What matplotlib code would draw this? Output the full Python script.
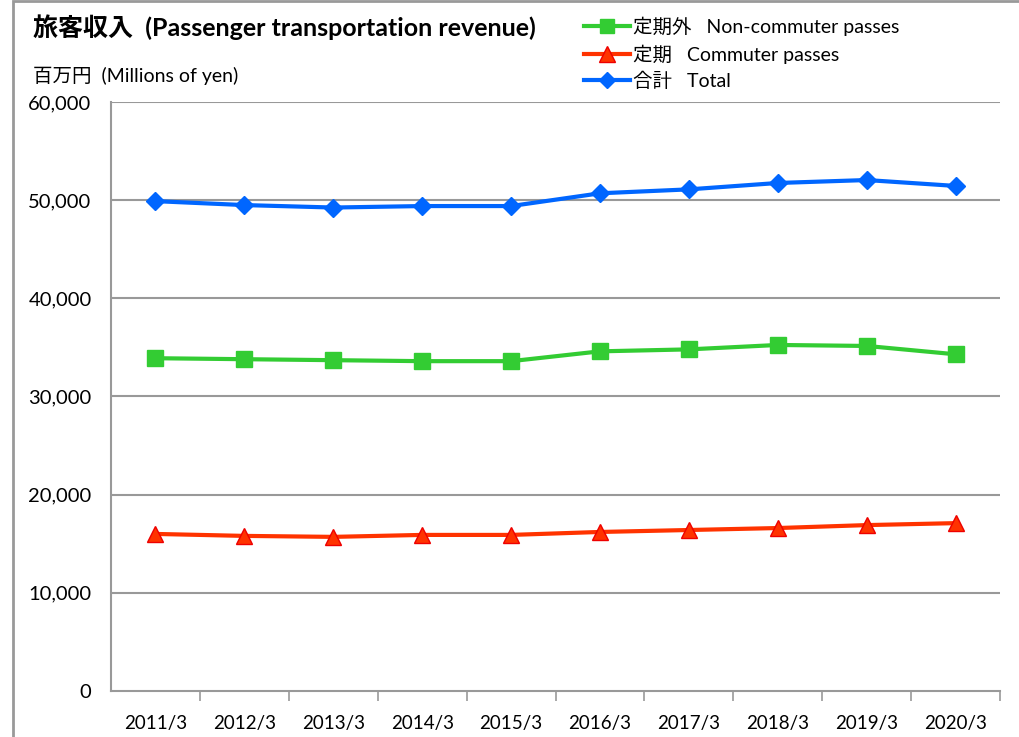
import matplotlib
matplotlib.use("Agg")
import matplotlib.pyplot as plt
from matplotlib.lines import Line2D
from matplotlib.patches import Rectangle
import numpy as np

plt.rcParams['font.family'] = ['Lato', 'Noto Sans CJK JP', 'DejaVu Sans']

categories = ["2011/3", "2012/3", "2013/3", "2014/3", "2015/3",
              "2016/3", "2017/3", "2018/3", "2019/3", "2020/3"]
non_commuter = [33900, 33800, 33700, 33600, 33600, 34600, 34800, 35250, 35150, 34300]
commuter = [16000, 15800, 15700, 15900, 15900, 16200, 16400, 16600, 16900, 17100]
total = [49900, 49500, 49250, 49400, 49400, 50700, 51100, 51750, 52050, 51450]
yticks = [0, 10000, 20000, 30000, 40000, 50000, 60000]

fig = plt.figure(figsize=(10.19, 7.37), dpi=100)
ax = fig.add_axes([111/1019, 1-691/737, 889/1019, 589/737])

x = np.arange(len(categories))
grid_c = '#999999'
for v in yticks[1:]:
    ax.axhline(v, color=grid_c, lw=1.5, zorder=1)

ax.plot(x, non_commuter, color='#33CC33', lw=3, marker='s', ms=11,
        mfc='#33CC33', mec='#33CC33', zorder=3)
ax.plot(x, commuter, color='#FF3300', lw=3, marker='^', ms=12,
        mfc='#FF3300', mec='#EE0000', zorder=3)
ax.plot(x, total, color='#0066FF', lw=3, marker='D', ms=9,
        mfc='#0066FF', mec='#0066FF', zorder=3)

ax.set_xlim(-0.5, len(categories)-0.5)
ax.set_ylim(0, 60000)
ax.set_yticks(yticks)
ax.set_yticklabels([f"{v:,}" for v in yticks], fontsize=14.5)
ax.set_xticks(x)
ax.set_xticklabels(categories, fontsize=13.5)
ax.set_xticks(np.arange(0.5, len(categories)-0.5+0.01, 1.0), minor=True)
ax.tick_params(axis='x', which='major', length=0, pad=17)
ax.tick_params(axis='x', which='minor', length=7, color=grid_c, width=1.2, direction='out')
ax.tick_params(axis='y', length=0, pad=14)
for s in ['top', 'right']:
    ax.spines[s].set_visible(False)
for s in ['left', 'bottom']:
    ax.spines[s].set_color(grid_c)
    ax.spines[s].set_linewidth(1.5)

fig.text(33/1019, 1-27/737, "旅客収入  (Passenger transportation revenue)",
         fontsize=18, fontweight='bold', va='center', ha='left')
fig.text(33/1019, 1-76/737, "百万円  (Millions of yen)",
         fontsize=14, va='center', ha='left')

handles = [
    Line2D([], [], color='#33CC33', lw=3, marker='s', ms=10, mfc='#33CC33', mec='#33CC33'),
    Line2D([], [], color='#FF3300', lw=3, marker='^', ms=11, mfc='#FF3300', mec='#EE0000'),
    Line2D([], [], color='#0066FF', lw=3, marker='D', ms=8, mfc='#0066FF', mec='#0066FF'),
]
labels = ["定期外   Non-commuter passes", "定期   Commuter passes", "合計   Total"]
fig.legend(handles, labels, loc='upper left', bbox_to_anchor=(576/1019, 1-9/737),
           frameon=False, fontsize=14, handlelength=2.4, handletextpad=0.15,
           labelspacing=0.42, borderaxespad=0)

fig.patches.append(Rectangle((13/1019, -0.1), 1.2, 1-1/737+0.1, transform=fig.transFigure,
                             fill=False, ec='#999999', lw=2))

fig.savefig("out.png", dpi=100)
